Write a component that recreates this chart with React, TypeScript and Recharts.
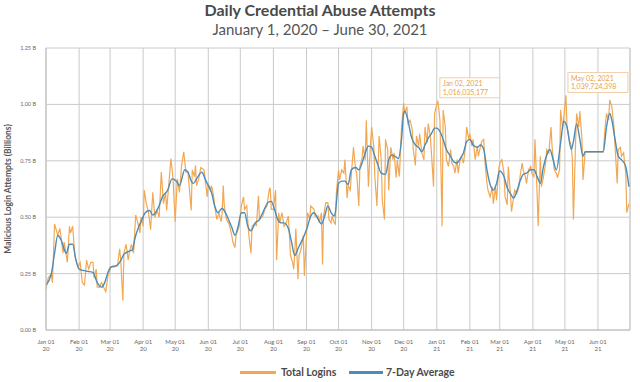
import React from 'react';
import { LineChart, Line, XAxis, YAxis, CartesianGrid, ReferenceDot, ReferenceLine, Label } from 'recharts';

const START = Date.UTC(2020, 0, 1);
const DAY = 86400000;
const toDay = (iso: string) => Math.round((Date.parse(iso + 'T00:00:00Z') - START) / DAY);

const titleText = 'Daily Credential Abuse Attempts';
const subtitleText = 'January 1, 2020 \u2013 June 30, 2021';
const yAxisTitle = 'Malicious Login Attempts (Billions)';

const monthTickDates = [
  '2020-01-01', '2020-02-01', '2020-03-01', '2020-04-01', '2020-05-01', '2020-06-01',
  '2020-07-01', '2020-08-01', '2020-09-01', '2020-10-01', '2020-11-01', '2020-12-01',
  '2021-01-01', '2021-02-01', '2021-03-01', '2021-04-01', '2021-05-01', '2021-06-01',
];
const monthTickLabels = [
  ['Jan 01', '20'], ['Feb 01', '20'], ['Mar 01', '20'], ['Apr 01', '20'], ['May 01', '20'], ['Jun 01', '20'],
  ['Jul 01', '20'], ['Aug 01', '20'], ['Sep 01', '20'], ['Oct 01', '20'], ['Nov 01', '20'], ['Dec 01', '20'],
  ['Jan 01', '21'], ['Feb 01', '21'], ['Mar 01', '21'], ['Apr 01', '21'], ['May 01', '21'], ['Jun 01', '21'],
];
const xDomainEnd = '2021-07-01';

const yTicks = [0, 0.25, 0.5, 0.75, 1, 1.25];
const yTickLabels = ['0.00 B', '0.25 B', '0.50 B', '0.75 B', '1.00 B', '1.25 B'];

// Total Logins (billions), days counted from 2020-01-01
const loginDayIndex = [
  0, 2, 5, 6, 8, 11, 13, 16, 17, 20, 22, 23, 25, 27, 30, 32, 34, 36, 38, 40,
  42, 44, 45, 47, 48, 50, 52, 54, 56, 58, 61, 64, 67, 69, 70, 72, 73, 75, 77, 78,
  80, 82, 84, 86, 88, 89, 91, 92, 94, 96, 98, 100, 102, 104, 106, 108, 110, 112, 113, 115,
  117, 119, 121, 123, 125, 127, 129, 131, 133, 136, 137, 139, 140, 141, 143, 145, 148, 151, 152, 154,
  155, 157, 158, 160, 162, 164, 165, 166, 167, 169, 171, 172, 174, 175, 177, 178, 181, 183, 185, 186,
  188, 190, 192, 193, 196, 197, 199, 200, 203, 205, 207, 209, 210, 211, 213, 215, 216, 218, 219, 221,
  223, 225, 227, 228, 229, 231, 232, 233, 234, 236, 237, 239, 241, 242, 244, 245, 247, 248, 251, 252,
  255, 256, 258, 259, 260, 262, 264, 265, 267, 268, 270, 271, 272, 274, 275, 277, 279, 280, 282, 283,
  285, 286, 288, 290, 291, 293, 294, 296, 297, 299, 300, 302, 304, 305, 307, 308, 310, 312, 314, 315,
  317, 318, 320, 321, 323, 325, 326, 328, 329, 331, 333, 335, 336, 338, 339, 341, 343, 344, 346, 347,
  349, 350, 352, 354, 355, 357, 358, 360, 361, 363, 364, 366, 367, 368, 369, 371, 372, 374, 375, 377,
  379, 380, 382, 383, 385, 386, 388, 389, 391, 393, 394, 396, 397, 399, 400, 402, 404, 405, 407, 408,
  410, 411, 413, 414, 416, 418, 419, 421, 422, 424, 425, 427, 429, 430, 432, 433, 435, 436, 438, 439,
  441, 443, 444, 446, 447, 449, 450, 452, 454, 455, 457, 458, 460, 461, 463, 464, 466, 468, 469, 471,
  473, 474, 476, 478, 479, 481, 482, 484, 485, 487, 488, 490, 492, 493, 494, 496, 497, 499, 500, 502,
  503, 505, 522, 524, 525, 527, 528, 530, 532, 533, 535, 536, 538, 539, 541, 543, 544, 546,
];
const loginBillions = [
  0.18, 0.23, 0.25, 0.21, 0.47, 0.42, 0.45, 0.34, 0.39, 0.30, 0.46, 0.43, 0.46, 0.33, 0.28, 0.30, 0.21, 0.20, 0.31, 0.27,
  0.30, 0.30, 0.23, 0.27, 0.19, 0.19, 0.21, 0.19, 0.17, 0.24, 0.28, 0.28, 0.285, 0.36, 0.31, 0.13, 0.34, 0.38, 0.31, 0.34,
  0.38, 0.34, 0.51, 0.475, 0.43, 0.50, 0.46, 0.62, 0.56, 0.52, 0.445, 0.61, 0.50, 0.53, 0.50, 0.70, 0.56, 0.61, 0.53, 0.645,
  0.76, 0.67, 0.48, 0.67, 0.61, 0.73, 0.79, 0.70, 0.70, 0.53, 0.71, 0.68, 0.73, 0.64, 0.67, 0.72, 0.71, 0.59, 0.65, 0.62,
  0.64, 0.595, 0.55, 0.49, 0.52, 0.48, 0.52, 0.64, 0.55, 0.49, 0.475, 0.46, 0.42, 0.39, 0.365, 0.42, 0.46, 0.55, 0.59, 0.535,
  0.55, 0.42, 0.34, 0.46, 0.475, 0.46, 0.595, 0.49, 0.505, 0.535, 0.55, 0.62, 0.63, 0.535, 0.535, 0.62, 0.31, 0.52, 0.475, 0.52,
  0.46, 0.475, 0.505, 0.42, 0.33, 0.30, 0.27, 0.34, 0.45, 0.225, 0.33, 0.36, 0.42, 0.24, 0.42, 0.52, 0.49, 0.55, 0.535, 0.505,
  0.505, 0.475, 0.52, 0.29, 0.505, 0.565, 0.565, 0.49, 0.475, 0.505, 0.475, 0.47, 0.61, 0.71, 0.665, 0.71, 0.695, 0.755, 0.585, 0.64,
  0.62, 0.69, 0.81, 0.71, 0.695, 0.55, 0.725, 0.76, 0.815, 0.755, 0.93, 0.635, 0.83, 0.90, 0.815, 0.68, 0.55, 0.86, 0.755, 0.575,
  0.49, 0.845, 0.80, 0.62, 0.81, 0.755, 0.785, 0.675, 0.755, 0.68, 0.90, 1.005, 0.96, 0.99, 0.915, 0.93, 0.89, 0.80, 0.73, 0.86,
  0.815, 0.87, 0.785, 0.755, 0.90, 0.83, 0.915, 0.86, 0.785, 0.635, 0.96, 1.00, 1.016, 0.975, 0.93, 0.46, 0.975, 0.90, 0.755, 0.725,
  0.80, 0.74, 0.725, 0.695, 0.755, 0.695, 0.755, 0.77, 0.74, 0.815, 0.90, 0.845, 0.87, 0.815, 0.845, 0.755, 0.815, 0.77, 0.815, 0.835,
  0.845, 0.755, 0.65, 0.62, 0.59, 0.635, 0.56, 0.635, 0.575, 0.71, 0.74, 0.755, 0.695, 0.59, 0.555, 0.725, 0.605, 0.525, 0.59, 0.62,
  0.605, 0.635, 0.68, 0.74, 0.71, 0.68, 0.65, 0.71, 0.725, 0.695, 0.68, 0.845, 0.605, 0.46, 0.77, 0.635, 0.68, 0.74, 0.80, 0.785,
  0.90, 0.815, 0.71, 0.695, 0.675, 0.71, 0.975, 0.89, 0.945, 1.04, 0.90, 0.845, 0.815, 0.755, 0.49, 0.83, 0.96, 0.90, 0.97, 0.845,
  0.665, 0.79, 0.79, 0.915, 0.96, 0.93, 1.02, 0.99, 0.90, 0.815, 0.65, 0.80, 0.81, 0.77, 0.785, 0.695, 0.52, 0.56,
];

// 7-Day Average (billions)
const avgDayIndex = [
  0, 5, 8, 11, 14, 19, 22, 25, 28, 31, 39, 44, 48, 52, 55, 58, 61, 66, 69, 73,
  78, 81, 83, 87, 89, 93, 97, 100, 105, 109, 114, 118, 122, 125, 130, 133, 136, 138, 141, 146,
  149, 152, 155, 158, 161, 165, 168, 171, 174, 177, 180, 183, 186, 189, 192, 196, 200, 203, 208, 211,
  214, 217, 220, 223, 227, 230, 233, 236, 239, 242, 245, 248, 251, 255, 258, 261, 264, 267, 270, 271,
  274, 277, 280, 283, 286, 290, 293, 296, 299, 302, 305, 308, 311, 314, 318, 321, 324, 327, 330, 333,
  335, 336, 339, 342, 346, 349, 352, 355, 358, 361, 364, 366, 369, 372, 375, 379, 382, 385, 388, 391,
  394, 397, 400, 404, 407, 410, 413, 416, 419, 422, 425, 429, 432, 435, 438, 441, 444, 447, 450, 454,
  457, 460, 463, 466, 469, 472, 475, 478, 482, 485, 488, 492, 494, 497, 500, 503, 505, 522, 525, 528,
  530, 533, 536, 539, 543, 546,
];
const avgBillions = [
  0.20, 0.25, 0.34, 0.42, 0.40, 0.34, 0.38, 0.38, 0.31, 0.27, 0.26, 0.255, 0.21, 0.19, 0.21, 0.255, 0.28, 0.285, 0.30, 0.335,
  0.35, 0.355, 0.40, 0.46, 0.48, 0.52, 0.53, 0.51, 0.54, 0.59, 0.62, 0.67, 0.66, 0.64, 0.71, 0.70, 0.66, 0.65, 0.67, 0.70,
  0.67, 0.64, 0.61, 0.55, 0.52, 0.54, 0.52, 0.49, 0.455, 0.42, 0.46, 0.52, 0.52, 0.46, 0.44, 0.475, 0.49, 0.52, 0.565, 0.57,
  0.535, 0.49, 0.475, 0.475, 0.45, 0.39, 0.33, 0.36, 0.39, 0.42, 0.46, 0.505, 0.52, 0.49, 0.47, 0.505, 0.55, 0.52, 0.505, 0.52,
  0.65, 0.66, 0.66, 0.645, 0.71, 0.72, 0.71, 0.74, 0.785, 0.815, 0.81, 0.77, 0.73, 0.695, 0.69, 0.755, 0.775, 0.77, 0.76, 0.845,
  0.96, 0.97, 0.93, 0.86, 0.82, 0.81, 0.79, 0.82, 0.85, 0.87, 0.895, 0.895, 0.88, 0.845, 0.80, 0.77, 0.745, 0.74, 0.76, 0.785,
  0.835, 0.845, 0.82, 0.81, 0.82, 0.80, 0.71, 0.645, 0.62, 0.65, 0.705, 0.68, 0.63, 0.605, 0.585, 0.615, 0.66, 0.69, 0.695, 0.71,
  0.71, 0.68, 0.65, 0.725, 0.775, 0.80, 0.755, 0.71, 0.83, 0.925, 0.90, 0.80, 0.835, 0.915, 0.845, 0.77, 0.79, 0.79, 0.90, 0.96,
  0.93, 0.845, 0.77, 0.755, 0.725, 0.635,
];

const annotationDates = ['2021-01-02', '2021-05-02'];
const annotationDateLabels = ['Jan 02, 2021', 'May 02, 2021'];
const annotationValueLabels = ['1,016,035,177', '1,039,724,398'];
const annotationBillions = [1.016035177, 1.039724398];

const seriesNames = ['Total Logins', '7-Day Average'];
const ORANGE = '#F2A853';
const BLUE = '#4B8CB9';
const GRID = '#CACACA';
const FONT = 'Lato, "Open Sans", sans-serif';

const loginData = loginDayIndex.map((d, i) => ({ d, v: loginBillions[i] }));
const avgData = avgDayIndex.map((d, i) => ({ d, v: avgBillions[i] }));
const tickDays = monthTickDates.map(toDay);
const endDay = toDay(xDomainEnd);

const XTick = (props: any) => {
  const { x, y, payload } = props;
  const i = tickDays.indexOf(payload.value);
  if (i < 0) return null;
  const [a, b] = monthTickLabels[i];
  return (
    <text x={x} y={y} textAnchor="middle" fill="#666" fontSize={6} fontFamily={FONT}>
      <tspan x={x} dy={12}>{a}</tspan>
      <tspan x={x} dy={7}>{b}</tspan>
    </text>
  );
};

const YTick = (props: any) => {
  const { x, y, payload } = props;
  const i = yTicks.indexOf(payload.value);
  return (
    <text x={x} y={y} dy={2} textAnchor="end" fill="#666" fontSize={5.5} fontFamily={FONT}>
      {yTickLabels[i]}
    </text>
  );
};

const makeAnnotationShape = (i: number) => (props: any) => {
  const { cx, cy } = props;
  if (cx == null || cy == null) return null;
  const bx = cx + 2;
  const by = cy - 23;
  return (
    <g>
      <rect x={bx} y={by} width={60} height={20} fill="#FFFFFF" fillOpacity={0.85} stroke="#F2CFA6" strokeWidth={1} />
      <text x={bx + 3} y={by + 8.5} fill="#E9A250" fontSize={7} fontFamily={FONT}>{annotationDateLabels[i]}</text>
      <text x={bx + 3} y={by + 17} fill="#E9A250" fontSize={7} fontFamily={FONT}>{annotationValueLabels[i]}</text>
    </g>
  );
};

export default function App() {
  return (
    <div style={{ position: 'absolute', left: 0, top: 0, width: 640, height: 382, background: '#fff', fontFamily: FONT }}>
      <div style={{ position: 'absolute', left: 0, top: 1, width: 640, textAlign: 'center', fontSize: 16, fontWeight: 700, color: '#4a4a4a', lineHeight: '18px' }}>
        {titleText}
      </div>
      <div style={{ position: 'absolute', left: 0, top: 20, width: 640, textAlign: 'center', fontSize: 15, fontWeight: 400, color: '#555', lineHeight: '18px' }}>
        {subtitleText}
      </div>
      <LineChart width={640} height={382} margin={{ top: 48, right: 10, bottom: 0, left: 0 }}>
        <CartesianGrid stroke={GRID} strokeWidth={1} />
        <XAxis
          type="number"
          dataKey="d"
          domain={[0, endDay]}
          ticks={tickDays}
          tick={<XTick />}
          tickLine={false}
          tickSize={0}
          height={52}
          stroke="#BDBDBD"
          allowDataOverflow
          interval={0}
        />
        <YAxis
          type="number"
          domain={[0, 1.25]}
          ticks={yTicks}
          tick={<YTick />}
          tickLine={false}
          tickSize={0}
          tickMargin={10}
          width={46}
          stroke="#BDBDBD"
          interval={0}
        >
          <Label
            content={() => (
              <text x={9} y={189} transform="rotate(-90 9 189)" textAnchor="middle" dominantBaseline="middle" fill="#555" fontSize={8.5} fontWeight={700} fontFamily={FONT}>
                {yAxisTitle}
              </text>
            )}
          />
        </YAxis>
        <ReferenceLine x={endDay} stroke={GRID} strokeWidth={1} />
        <Line data={loginData} dataKey="v" name={seriesNames[0]} type="linear" stroke={ORANGE} strokeWidth={1.2} dot={false} activeDot={false} isAnimationActive={false} />
        <Line data={avgData} dataKey="v" name={seriesNames[1]} type="monotone" stroke={BLUE} strokeWidth={1.4} dot={false} activeDot={false} isAnimationActive={false} />
        {annotationDates.map((dt, i) => (
          <ReferenceDot key={dt} x={toDay(dt)} y={annotationBillions[i]} r={0} shape={makeAnnotationShape(i)} />
        ))}
      </LineChart>
      <div style={{ position: 'absolute', left: 240, top: 371, width: 36, height: 2.5, background: ORANGE }} />
      <div style={{ position: 'absolute', left: 281, top: 365, fontSize: 10.5, fontWeight: 700, color: '#4a4a4a', lineHeight: '14px' }}>{seriesNames[0]}</div>
      <div style={{ position: 'absolute', left: 349, top: 371, width: 34, height: 2.5, background: BLUE }} />
      <div style={{ position: 'absolute', left: 386, top: 365, fontSize: 10.5, fontWeight: 700, color: '#4a4a4a', lineHeight: '14px' }}>{seriesNames[1]}</div>
    </div>
  );
}
